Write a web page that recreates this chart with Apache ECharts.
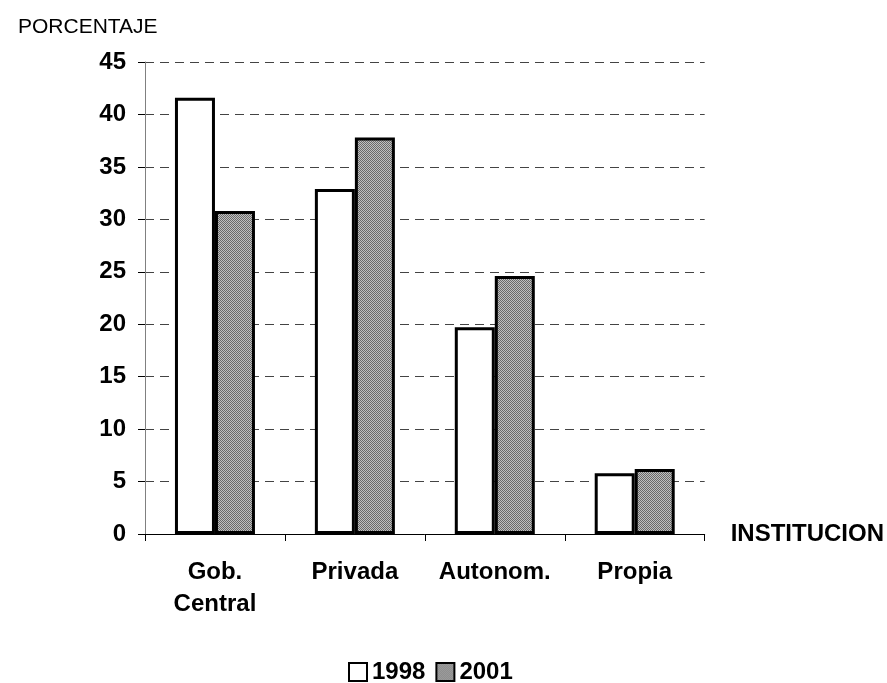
<!DOCTYPE html>
<html>
<head>
<meta charset="utf-8">
<script src="https://cdn.jsdelivr.net/npm/echarts@6/dist/echarts.min.js"></script>
<style>html,body{margin:0;padding:0;background:#fff}#c{width:887px;height:683px}</style>
</head>
<body>
<div id="c"></div>
<script>
const categories = ['Gob.\nCentral', 'Privada', 'Autonom.', 'Propia'];
const values1998 = [41.6, 32.9, 19.7, 5.8];
const values2001 = [30.8, 37.8, 24.6, 6.2];
const seriesNames = ['1998', '2001'];
const yTicks = [0, 5, 10, 15, 20, 25, 30, 35, 40, 45];

// dithered gray pattern
const pc = document.createElement('canvas');
pc.width = 2; pc.height = 2;
const px = pc.getContext('2d');
px.fillStyle = '#c0c0c0'; px.fillRect(0,0,2,2);
px.fillStyle = '#6a6a6a'; px.fillRect(0,0,1,1); px.fillRect(1,1,1,1);
const pattern = { image: pc, repeat: 'repeat' };

const font = 'Arial, "Liberation Sans", sans-serif';
const chart = echarts.init(document.getElementById('c'), null, { renderer: 'canvas' });
chart.setOption({
  animation: false,
  backgroundColor: '#fff',
  title: {
    text: 'PORCENTAJE', left: 13, top: 12,
    textStyle: { fontFamily: font, fontWeight: 'normal', fontSize: 21, color: '#000' }
  },
  grid: { left: 145, right: 180, top: 62, bottom: 149, containLabel: false },
  legend: {
    data: seriesNames, top: 655, left: 343,
    icon: 'rect',
    itemWidth: 18, itemHeight: 18, itemGap: 10,
    textStyle: { fontFamily: font, fontWeight: 'bold', fontSize: 24, color: '#000' },
    itemStyle: { borderColor: '#000', borderWidth: 2 }
  },
  xAxis: {
    type: 'category', data: categories,
    name: 'INSTITUCION', nameLocation: 'end', nameGap: 26,
    nameTextStyle: { fontFamily: font, fontWeight: 'bold', fontSize: 24, color: '#000', padding: [0,0,18,0], align: 'left' },
    axisLine: { lineStyle: { color: '#000', width: 1 } },
    axisTick: { show: true, length: 7, lineStyle: { color: '#000' } },
    axisLabel: { interval: 0, fontFamily: font, fontWeight: 'bold', fontSize: 24, color: '#000', margin: 22, lineHeight: 32 }
  },
  yAxis: {
    type: 'value', min: 0, max: 45, interval: 5,
    axisLine: { show: true, lineStyle: { color: '#808080', width: 1 } },
    axisTick: { show: true, length: 7, lineStyle: { color: '#000' } },
    axisLabel: { fontFamily: font, fontWeight: 'bold', fontSize: 24, color: '#000', margin: 19,
      formatter: v => yTicks.includes(v) ? String(v) : '' },
    splitLine: { show: true, lineStyle: { color: '#444', type: [9, 6], width: 1 } }
  },
  series: [
    { name: seriesNames[0], type: 'bar', data: values1998, barWidth: 40, barGap: '0%',
      itemStyle: { color: '#fff', borderColor: '#000', borderWidth: 3 } },
    { name: seriesNames[1], type: 'bar', data: values2001, barWidth: 40, barGap: '0%',
      itemStyle: { color: pattern, borderColor: '#000', borderWidth: 3 } }
  ]
});
</script>
</body>
</html>
